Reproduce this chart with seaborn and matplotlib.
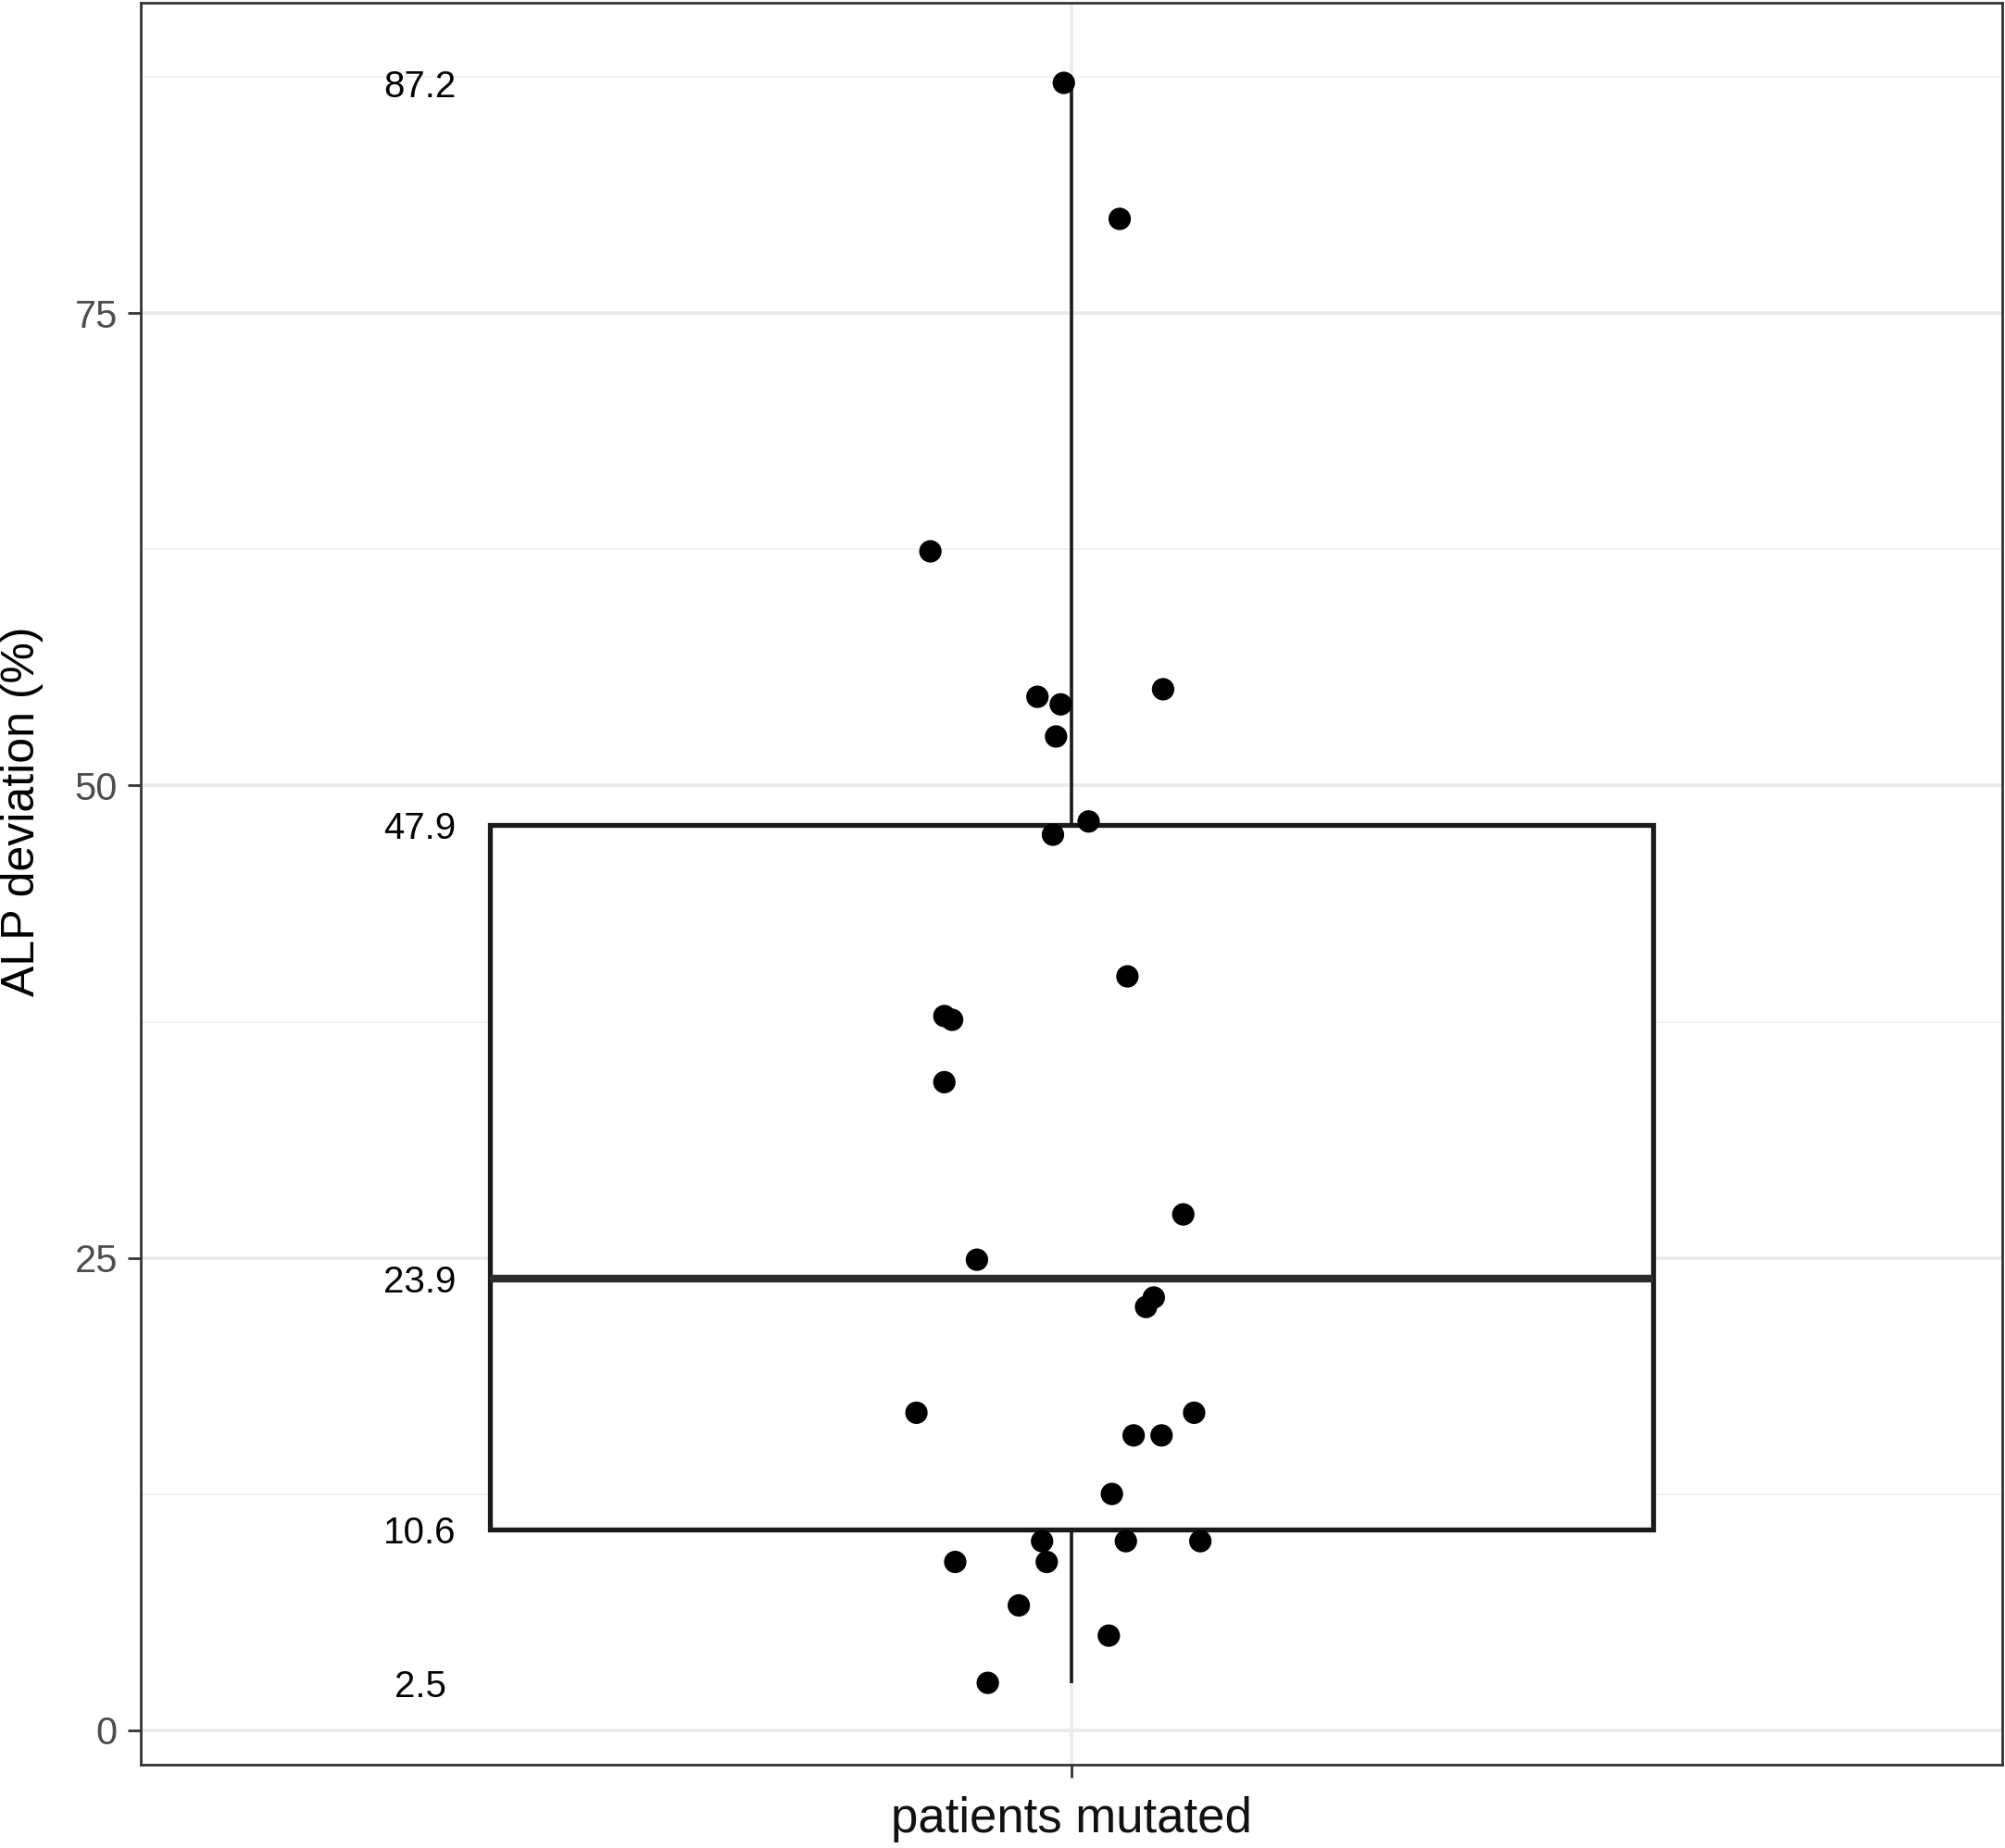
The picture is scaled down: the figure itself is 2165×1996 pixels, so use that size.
import numpy as np
import pandas as pd
import matplotlib
matplotlib.use("Agg")
import matplotlib.pyplot as plt
import matplotlib.ticker as mticker
import seaborn as sns

# ── data ────────────────────────────────────────────────────────────────────
alp_dev = [87.2, 80.0, 62.4, 54.7, 54.3, 55.1, 52.6, 48.1, 47.4, 39.9,
           37.8, 37.6, 34.3, 27.3, 24.9, 22.9, 22.4, 16.8, 16.8, 15.6,
           15.6, 12.5, 10.0, 10.0, 10.0, 8.9, 8.9, 6.6, 5.0, 2.5]
jitter_x = [-0.005, 0.031, -0.091, -0.022, -0.007, 0.059, -0.010, 0.011, -0.012, 0.036,
            -0.082, -0.077, -0.082, 0.072, -0.061, 0.053, 0.048, -0.100, 0.079, 0.040,
            0.058, 0.026, -0.019, 0.035, 0.083, -0.075, -0.016, -0.034, 0.024, -0.054]
group = "patients mutated"

df = pd.DataFrame({"group": group, "alp": alp_dev, "jx": jitter_x})

sns.set_style("white")
plt.rcParams["font.family"] = ["Liberation Sans", "DejaVu Sans"]

fig = plt.figure(figsize=(10.825, 9.98), dpi=200)
ax = fig.add_axes([0.0702, 0.045, 0.9285, 0.9535])

sns.boxplot(data=df, x="group", y="alp", ax=ax, width=0.75, whis=(0, 100),
            showfliers=False, showcaps=False, color="white", linecolor="#1a1a1a",
            linewidth=1.9,
            medianprops=dict(linewidth=3.0, color="#2b2b2b"),
            whiskerprops=dict(linewidth=1.3, color="#1a1a1a"), zorder=2)

ax.scatter(df["jx"], df["alp"], s=76, color="black", edgecolors="none", zorder=3)

# labels at box stats
vals = np.array(alp_dev)
stats = [vals.min(), np.percentile(vals, 25), np.median(vals), np.percentile(vals, 75), vals.max()]
for v in stats:
    ax.text(-0.42, v, f"{v:.1f}", ha="center", va="center_baseline", fontsize=14.5,
            color="black", zorder=4)

ax.set_xlim(-0.6, 0.6)
ax.set_ylim(-1.84, 91.44)
ax.yaxis.set_major_locator(mticker.FixedLocator([0, 25, 50, 75]))
ax.yaxis.set_minor_locator(mticker.FixedLocator([12.5, 37.5, 62.5, 87.5]))
ax.grid(which="major", color="#ebebeb", linewidth=1.3, zorder=0)
ax.grid(which="minor", axis="y", color="#f2f2f2", linewidth=0.7, zorder=0)
ax.set_axisbelow(True)

for s in ax.spines.values():
    s.set_visible(True)
    s.set_color("#333333")
    s.set_linewidth(1.0)

ax.tick_params(axis="y", which="major", length=5, width=1.0, color="#333333",
               labelsize=15, labelcolor="#4d4d4d", pad=4, left=True)
ax.tick_params(axis="y", which="minor", length=0)
ax.tick_params(axis="x", length=5, width=1.0, color="#333333",
               labelsize=19, labelcolor="#111111", pad=7, bottom=True)

ax.set_xlabel("")
ax.set_ylabel("ALP deviation (%)", fontsize=18, color="black")
ax.yaxis.set_label_coords(-0.052, 0.541)

fig.savefig("out.png", dpi=200, facecolor="white")
